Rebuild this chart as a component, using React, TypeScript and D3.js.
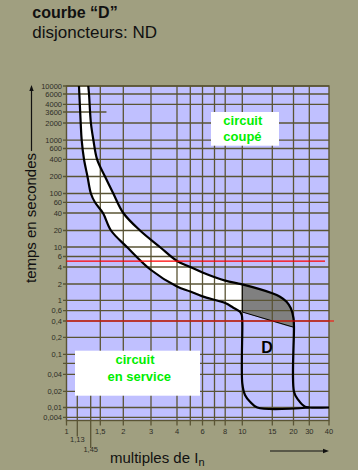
import React from "react";
import * as d3 from "d3";

// ---------- DATA ----------
// time axis (seconds) – gridline values and their printed labels
const yTickValues = [10000, 6000, 4000, 3600, 2000, 1000, 600, 400, 200, 100, 60, 40, 20, 10, 6, 4, 2, 1, 0.6, 0.4, 0.2, 0.1, 0.06, 0.04, 0.02, 0.01, 0.004];
const yTickLabels = ["10000", "6000", "4000", "3600", "2000", "1000", "600", "400", "200", "100", "60", "40", "20", "10", "6", "4", "2", "1", "0,6", "0,4", "0,2", "0,1", "", "0,04", "0,02", "0,01", "0,004"];
// gridlines that only run part way (value -> end multiple)
const yShortValues = [3600];
const yShortEnds = [1.62];

// current axis (multiples of In)
const xAnchorValues = [1, 1.13, 1.45, 1.5, 2, 3, 4, 5, 6, 7, 8, 10, 15, 20, 30, 40];
const xGridValues = [1.5, 2, 3, 4, 5, 6, 7, 8, 10, 15, 20, 30];
const xTickValues = [1, 1.5, 2, 3, 4, 6, 8, 10, 15, 20, 30, 40];
const xTickLabels = ["1", "1,5", "2", "3", "4", "6", "8", "10", "15", "20", "30", "40"];
const xSpecialValues = [1.13, 1.45];
const xSpecialLabels = ["1,13", "1,45"];

// upper boundary (tripping curve): [multiple of In, seconds]
const tripCurve: [number, number][] = [
  [1.386, 10000], [1.405, 6000], [1.451, 2000], [1.464, 1000], [1.483, 400], [1.591, 200],
  [1.765, 100], [2.0, 40], [2.554, 20], [3.31, 10], [4, 5.04], [5, 4.0], [6, 3.2], [8, 2.29],
  [10, 1.97], [15, 1.35], [16.65, 1.165], [18.2, 0.933], [19.3, 0.675], [20, 0.445],
  [20.25, 0.314], [20.25, 0.0197], [22.6, 0.0138], [26.9, 0.0103], [30, 0.01], [40, 0.01],
];

// lower boundary (non-tripping curve)
const nonTripCurve: [number, number][] = [
  [1.166, 10000], [1.204, 2000], [1.226, 1000], [1.28, 400], [1.366, 200], [1.451, 100],
  [1.472, 60], [1.551, 40], [1.715, 20], [2.11, 10], [3, 3.54], [4, 1.8], [5, 1.45], [6, 1.18],
  [8, 0.876], [8.89, 0.696], [9.7, 0.577], [9.93, 0.507], [10, 0.388], [10, 0.0277],
  [10.37, 0.0171], [11.1, 0.0128], [12.25, 0.01], [30, 0.01],
];

// lower edge of the grey zone
const greyEdge: [number, number][] = [[10, 0.57], [20.25, 0.306]];

// red reference times (s)
const redTimes = [5, 0.4];

// ---------- LAYOUT ----------
const W = 358;
const H = 470;
// hand-drawn axis calibration (pixel of each gridline)
const yTickPx = [86, 94, 104.3, 112, 123, 140.2, 148.5, 159.3, 176.5, 193.5, 202.3, 213, 230.5, 247, 256.5, 267, 284, 300.3, 310.7, 321, 337.3, 354.3, 363.3, 374.3, 391.3, 407.5, 417.3];
const xAnchorPx = [66.5, 77.3, 90.7, 100.3, 123.3, 151, 177, 190.3, 202.5, 214.5, 225.2, 242.3, 272.3, 293.5, 309.3, 329];
const plotBottom = 420.5;

const BG = "#a09f80";
const PLOT_BG = "#c0c0ff";
const GRID = "#5a5434";
const LABEL = "#2e2e26";
const GREEN = "#00ee00";
const FONT = "'Liberation Sans', Arial, Helvetica, sans-serif";

export default function App() {
  const x = d3.scaleLog().domain(xAnchorValues).range(xAnchorPx);
  const y = d3.scaleLog().domain(yTickValues).range(yTickPx);

  const left = x(1);
  const right = x(40);
  const top = y(10000);

  const curve = d3.curveCatmullRom.alpha(0.5);
  const line = d3
    .line<[number, number]>()
    .x((d) => x(d[0]))
    .y((d) => y(d[1]))
    .curve(curve);
  const lin = d3
    .line<[number, number]>()
    .x((d) => x(d[0]))
    .y((d) => y(d[1]));

  // white band: between the two curves up to 10 In
  const aUpper = tripCurve.filter((d) => d[0] <= 10);
  const bUpper = nonTripCurve.filter((d) => d[1] >= greyEdge[0][1]);
  const bandPts: [number, number][] = [...aUpper, greyEdge[0], ...bUpper.slice().reverse()];

  // grey zone
  const aGrey = tripCurve.filter((d) => d[0] >= 10 && d[1] >= 0.3);
  const greyPts: [number, number][] = [...aGrey, greyEdge[1], greyEdge[0]];

  const yLabelX = left - 4.5;
  const xLabelY = plotBottom + 13.5;

  return (
    <svg
      width={W}
      height={H}
      style={{ position: "absolute", left: 0, top: 0, display: "block" }}
      fontFamily={FONT}
    >
      <rect x={0} y={0} width={W} height={H} fill={BG} />

      {/* titles */}
      <text x={32.3} y={18.3} fontSize={16} fontWeight="bold" fill="#111">
        courbe “D”
      </text>
      <text x={32.3} y={37.7} fontSize={17} fill="#111">
        disjoncteurs: ND
      </text>

      {/* plot area */}
      <rect x={left} y={top} width={right - left} height={plotBottom - top} fill={PLOT_BG} />

      {/* white band & grey zone */}
      <path d={line(bandPts) ?? ""} fill="#ffffff" stroke="none" />
      <path d={line(greyPts) ?? ""} fill="#808080" stroke="none" />

      {/* horizontal gridlines */}
      {yTickValues.map((v, i) => {
        const si = yShortValues.indexOf(v);
        return (
          <line
            key={"hy" + i}
            x1={left - 3.5}
            x2={si >= 0 ? x(yShortEnds[si]) : right}
            y1={y(v)}
            y2={y(v)}
            stroke={GRID}
            strokeWidth={1.3}
          />
        );
      })}
      {/* vertical gridlines */}
      {xGridValues.map((v, i) => (
        <line key={"vx" + i} x1={x(v)} x2={x(v)} y1={top} y2={plotBottom + 5} stroke={GRID} strokeWidth={1.3} />
      ))}
      {/* frame */}
      <rect x={left} y={top} width={right - left} height={plotBottom - top} fill="none" stroke={GRID} strokeWidth={1.4} />
      <line x1={left} x2={left} y1={plotBottom} y2={plotBottom + 5} stroke={GRID} strokeWidth={1.3} />
      <line x1={right} x2={right} y1={plotBottom} y2={plotBottom + 5} stroke={GRID} strokeWidth={1.3} />

      {/* grey zone lower edge */}
      <path d={lin(greyEdge) ?? ""} fill="none" stroke="#000" strokeWidth={1} />
      <line x1={x(10)} x2={x(10)} y1={y(1.97)} y2={y(greyEdge[0][1])} stroke="#000" strokeWidth={1} />

      {/* curves */}
      <path d={line(tripCurve) ?? ""} fill="none" stroke="#000" strokeWidth={2.2} />
      <path d={line(nonTripCurve) ?? ""} fill="none" stroke="#000" strokeWidth={2.2} />

      {/* red reference lines */}
      <line x1={left} x2={right - 4} y1={y(redTimes[0])} y2={y(redTimes[0])} stroke="#ff0000" strokeWidth={1.2} />
      <line x1={left} x2={right + 5} y1={y(redTimes[1])} y2={y(redTimes[1])} stroke="#ff0000" strokeWidth={1.2} />

      {/* boxes */}
      <rect x={211} y={112} width={68} height={33.7} fill="#fff" />
      <text x={223.3} y={125} fontSize={13} fontWeight="bold" fill={GREEN}>circuit</text>
      <text x={223.3} y={141} fontSize={13} fontWeight="bold" fill={GREEN}>coupé</text>

      <rect x={75} y={350.7} width={125} height={45} fill="#fff" />
      {/* special ticks 1,13 and 1,45 */}
      {xSpecialValues.map((v, i) => (
        <line
          key={"sp" + i}
          x1={x(v)}
          x2={x(v)}
          y1={395.7}
          y2={i === 0 ? 436.5 : 448}
          stroke={GRID}
          strokeWidth={1.3}
        />
      ))}
      <text x={135} y={364} fontSize={13} fontWeight="bold" fill={GREEN} textAnchor="middle">circuit</text>
      <text x={139.3} y={380.5} fontSize={13} fontWeight="bold" fill={GREEN} textAnchor="middle">en service</text>

      <text x={267} y={353.3} fontSize={16} fontWeight="bold" fill="#000" textAnchor="middle">D</text>

      {/* y tick labels */}
      {yTickValues.map((v, i) =>
        yTickLabels[i] ? (
          <text
            key={"yl" + i}
            x={yLabelX}
            y={y(v)}
            dy="0.35em"
            fontSize={7.5}
            textAnchor="end"
            fill={LABEL}
          >
            {yTickLabels[i]}
          </text>
        ) : null
      )}

      {/* x tick labels */}
      {xTickValues.map((v, i) => (
        <text key={"xl" + i} x={x(v)} y={xLabelY} fontSize={7.5} textAnchor="middle" fill={LABEL}>
          {xTickLabels[i]}
        </text>
      ))}
      {xSpecialValues.map((v, i) => (
        <text
          key={"xs" + i}
          x={x(v)}
          y={i === 0 ? 442.3 : 452.3}
          fontSize={7.5}
          textAnchor="middle"
          fill={LABEL}
        >
          {xSpecialLabels[i]}
        </text>
      ))}

      {/* axis titles */}
      <text
        transform={`translate(36,218) rotate(-90)`}
        fontSize={15}
        textAnchor="middle"
        fill="#111"
      >
        temps en secondes
      </text>
      <line x1={31.5} x2={31.5} y1={151} y2={90} stroke="#111" strokeWidth={1.2} />
      <path d="M31.5,85 L29.3,91 L33.7,91 Z" fill="#111" />

      <text x={110} y={462.7} fontSize={15} fill="#111">
        multiples de I
        <tspan fontSize={11} dy={3}>n</tspan>
      </text>
      <line x1={270} x2={325} y1={451} y2={451} stroke="#111" strokeWidth={1.2} />
      <path d="M329,451 L323,448.8 L323,453.2 Z" fill="#111" />
    </svg>
  );
}
